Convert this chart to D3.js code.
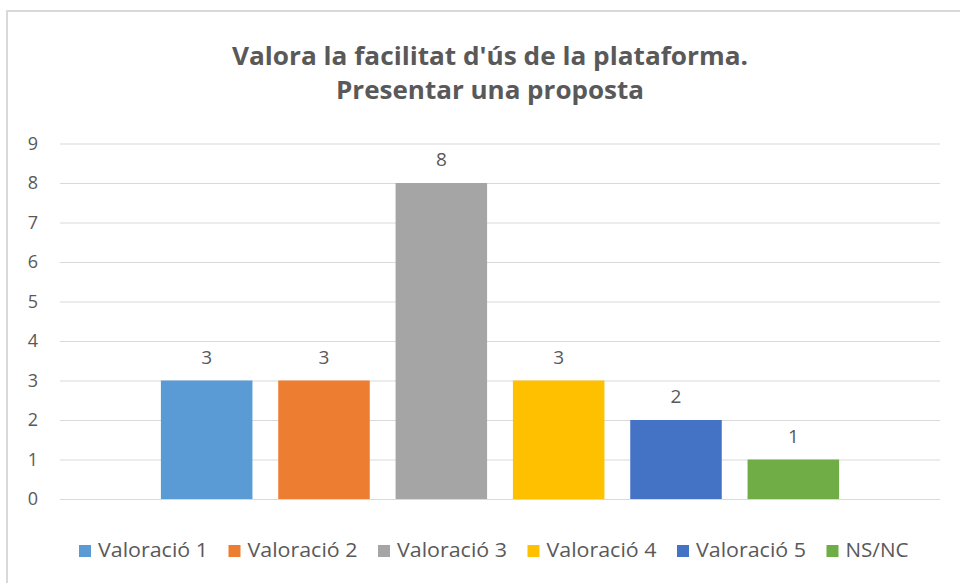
<!DOCTYPE html>
<html>
<head>
<meta charset="utf-8">
<script src="https://cdn.jsdelivr.net/npm/d3@7"></script>
<style>
  html, body { margin: 0; padding: 0; background: #fff; }
  svg text { font-family: "Open Sans", "Noto Sans", sans-serif; fill: #595959; }
</style>
</head>
<body>
<div id="vis"></div>
<script>
// ==== DATA ====
const titleLines = ["Valora la facilitat d'ús de la plataforma.", "Presentar una proposta"];
const series = ["Valoració 1", "Valoració 2", "Valoració 3", "Valoració 4", "Valoració 5", "NS/NC"];
const values = [3, 3, 8, 3, 2, 1];
const yTicks = [0, 1, 2, 3, 4, 5, 6, 7, 8, 9];

// ==== SETUP ====
const width = 960, height = 583;
const colors = ["#5B9BD5", "#ED7D31", "#A5A5A5", "#FFC000", "#4472C4", "#70AD47"];
const color = d3.scaleOrdinal().domain(series).range(colors);

const svg = d3.select("#vis")
  .append("svg")
  .attr("width", width)
  .attr("height", height);

svg.append("rect")
  .attr("width", width).attr("height", height)
  .attr("fill", "#fff");

// chart frame (cropped on right / bottom)
svg.append("rect")
  .attr("x", 7).attr("y", 11)
  .attr("width", 1000).attr("height", 1000)
  .attr("fill", "none")
  .attr("stroke", "#d9d9d9")
  .attr("stroke-width", 2);

// ==== SCALES ====
const plotLeft = 60, plotRight = 940;
const y = d3.scaleLinear().domain([0, 9]).range([499, 143.5]);
const x = d3.scaleBand()
  .domain(series)
  .range([148, 852])
  .paddingInner(0.22)
  .paddingOuter(0.11);

// ==== TITLE ====
const titleLen = [516, 308];
svg.selectAll("text.title")
  .data(titleLines)
  .enter()
  .append("text")
  .attr("class", "title")
  .attr("x", 490)
  .attr("y", (d, i) => 65 + i * 34)
  .attr("text-anchor", "middle")
  .attr("textLength", (d, i) => titleLen[i])
  .attr("lengthAdjust", "spacingAndGlyphs")
  .style("font-size", "24.5px")
  .style("font-weight", "700")
  .text(d => d);

// ==== GRID + Y AXIS ====
const yAxis = d3.axisLeft(y)
  .tickValues(yTicks)
  .tickSize(-(plotRight - plotLeft))
  .tickPadding(22)
  .tickFormat(d3.format("d"));

const gy = svg.append("g")
  .attr("transform", `translate(${plotLeft},0)`)
  .call(yAxis);
gy.select(".domain").remove();
gy.selectAll(".tick line")
  .attr("stroke", "#d9d9d9")
  .attr("stroke-width", 1);
gy.selectAll(".tick text")
  .style("font-size", "18px")
  .style("fill", "#595959")
  .style("font-family", "'Open Sans', sans-serif");

// ==== BARS ====
svg.selectAll("rect.bar")
  .data(series)
  .enter()
  .append("rect")
  .attr("class", "bar")
  .attr("x", d => x(d))
  .attr("y", (d, i) => y(values[i]))
  .attr("width", x.bandwidth())
  .attr("height", (d, i) => y(0) - y(values[i]))
  .attr("fill", d => color(d));

// data labels
svg.selectAll("text.label")
  .data(series)
  .enter()
  .append("text")
  .attr("class", "label")
  .attr("x", d => x(d) + x.bandwidth() / 2)
  .attr("y", (d, i) => y(values[i]) - 17)
  .attr("text-anchor", "middle")
  .style("font-size", "19px")
  .text((d, i) => values[i]);

// ==== LEGEND ====
const legend = svg.selectAll("g.legend")
  .data(series)
  .enter()
  .append("g")
  .attr("class", "legend")
  .attr("transform", (d, i) => `translate(${98 + i * 149.5},0)`);

legend.append("rect")
  .attr("x", -19)
  .attr("y", 545)
  .attr("width", 12)
  .attr("height", 12)
  .attr("fill", d => color(d));

legend.append("text")
  .attr("x", 0)
  .attr("y", 557)
  .attr("textLength", d => d === "NS/NC" ? 63 : 110)
  .attr("lengthAdjust", "spacingAndGlyphs")
  .style("font-size", "20px")
  .text(d => d);
</script>
</body>
</html>
